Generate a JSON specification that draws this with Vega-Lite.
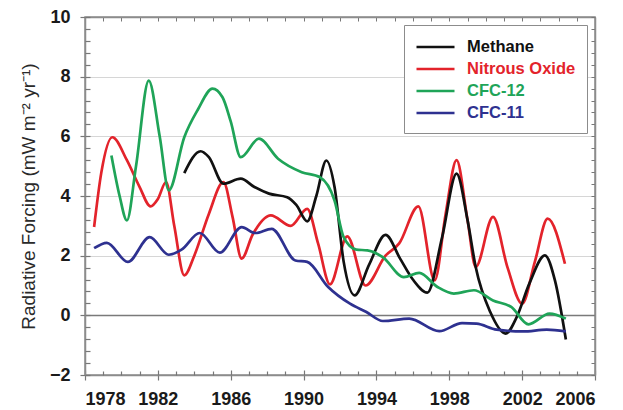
{
  "$schema": "https://vega.github.io/schema/vega-lite/v6.json",
  "width": 510,
  "height": 358,
  "autosize": {"type": "none"},
  "padding": {"left": 85, "top": 17, "right": 28, "bottom": 35},
  "background": "white",
  "config": {
    "view": {"stroke": "#8c8c8c", "strokeWidth": 1.5},
    "font": "Liberation Sans"
  },
  "resolve": {"axis": {"x": "independent", "y": "independent"}},
  "data": {
    "values": [
      {"series": "Nitrous Oxide", "year": 1978.5, "value": 2.96},
      {"series": "Nitrous Oxide", "year": 1978.9, "value": 4.8},
      {"series": "Nitrous Oxide", "year": 1979.5, "value": 5.97},
      {"series": "Nitrous Oxide", "year": 1980.3, "value": 5.2},
      {"series": "Nitrous Oxide", "year": 1981.0, "value": 4.3},
      {"series": "Nitrous Oxide", "year": 1981.6, "value": 3.65},
      {"series": "Nitrous Oxide", "year": 1982.0, "value": 3.9},
      {"series": "Nitrous Oxide", "year": 1982.45, "value": 4.47},
      {"series": "Nitrous Oxide", "year": 1982.9, "value": 3.0},
      {"series": "Nitrous Oxide", "year": 1983.45, "value": 1.34},
      {"series": "Nitrous Oxide", "year": 1984.0, "value": 2.0},
      {"series": "Nitrous Oxide", "year": 1984.8, "value": 3.4},
      {"series": "Nitrous Oxide", "year": 1985.6, "value": 4.47},
      {"series": "Nitrous Oxide", "year": 1986.1, "value": 3.3},
      {"series": "Nitrous Oxide", "year": 1986.6, "value": 1.9},
      {"series": "Nitrous Oxide", "year": 1987.2, "value": 2.7},
      {"series": "Nitrous Oxide", "year": 1988.2, "value": 3.35},
      {"series": "Nitrous Oxide", "year": 1989.3, "value": 3.0},
      {"series": "Nitrous Oxide", "year": 1990.2, "value": 3.57},
      {"series": "Nitrous Oxide", "year": 1990.8, "value": 2.4},
      {"series": "Nitrous Oxide", "year": 1991.45, "value": 1.04},
      {"series": "Nitrous Oxide", "year": 1992.4, "value": 2.65},
      {"series": "Nitrous Oxide", "year": 1993.4, "value": 1.0},
      {"series": "Nitrous Oxide", "year": 1994.5, "value": 2.0},
      {"series": "Nitrous Oxide", "year": 1995.25, "value": 2.41},
      {"series": "Nitrous Oxide", "year": 1996.3, "value": 3.65},
      {"series": "Nitrous Oxide", "year": 1997.2, "value": 1.17},
      {"series": "Nitrous Oxide", "year": 1997.8, "value": 3.4},
      {"series": "Nitrous Oxide", "year": 1998.4, "value": 5.2},
      {"series": "Nitrous Oxide", "year": 1999.0, "value": 3.2},
      {"series": "Nitrous Oxide", "year": 1999.45, "value": 1.62},
      {"series": "Nitrous Oxide", "year": 2000.4, "value": 3.3},
      {"series": "Nitrous Oxide", "year": 2001.2, "value": 1.6},
      {"series": "Nitrous Oxide", "year": 2002.0, "value": 0.39},
      {"series": "Nitrous Oxide", "year": 2002.7, "value": 1.8},
      {"series": "Nitrous Oxide", "year": 2003.4, "value": 3.24},
      {"series": "Nitrous Oxide", "year": 2004.35, "value": 1.73},

      {"series": "Methane", "year": 1983.45, "value": 4.77},
      {"series": "Methane", "year": 1984.35, "value": 5.5},
      {"series": "Methane", "year": 1984.8, "value": 5.3},
      {"series": "Methane", "year": 1985.6, "value": 4.41},
      {"series": "Methane", "year": 1986.55, "value": 4.58},
      {"series": "Methane", "year": 1987.3, "value": 4.3},
      {"series": "Methane", "year": 1988.1, "value": 4.08},
      {"series": "Methane", "year": 1989.1, "value": 3.96},
      {"series": "Methane", "year": 1989.6, "value": 3.7},
      {"series": "Methane", "year": 1990.2, "value": 3.15},
      {"series": "Methane", "year": 1990.7, "value": 4.0},
      {"series": "Methane", "year": 1991.25, "value": 5.19},
      {"series": "Methane", "year": 1991.7, "value": 4.3},
      {"series": "Methane", "year": 1992.2, "value": 1.8},
      {"series": "Methane", "year": 1992.8, "value": 0.67},
      {"series": "Methane", "year": 1993.6, "value": 1.7},
      {"series": "Methane", "year": 1994.5, "value": 2.7},
      {"series": "Methane", "year": 1995.3, "value": 1.9},
      {"series": "Methane", "year": 1996.0, "value": 1.2},
      {"series": "Methane", "year": 1996.8, "value": 0.76},
      {"series": "Methane", "year": 1997.6, "value": 2.6},
      {"series": "Methane", "year": 1998.4, "value": 4.75},
      {"series": "Methane", "year": 1999.0, "value": 3.2},
      {"series": "Methane", "year": 1999.45, "value": 1.62},
      {"series": "Methane", "year": 2000.25, "value": 0.11},
      {"series": "Methane", "year": 2001.1, "value": -0.61},
      {"series": "Methane", "year": 2001.7, "value": -0.06},
      {"series": "Methane", "year": 2002.4, "value": 1.07},
      {"series": "Methane", "year": 2003.25, "value": 2.01},
      {"series": "Methane", "year": 2003.8, "value": 1.17},
      {"series": "Methane", "year": 2004.4, "value": -0.81},

      {"series": "CFC-12", "year": 1979.45, "value": 5.36},
      {"series": "CFC-12", "year": 1979.9, "value": 4.0},
      {"series": "CFC-12", "year": 1980.3, "value": 3.18},
      {"series": "CFC-12", "year": 1980.8, "value": 5.0},
      {"series": "CFC-12", "year": 1981.5, "value": 7.87},
      {"series": "CFC-12", "year": 1982.1, "value": 6.0},
      {"series": "CFC-12", "year": 1982.6, "value": 4.19},
      {"series": "CFC-12", "year": 1983.45, "value": 5.97},
      {"series": "CFC-12", "year": 1984.2, "value": 6.9},
      {"series": "CFC-12", "year": 1985.0, "value": 7.6},
      {"series": "CFC-12", "year": 1985.55, "value": 7.31},
      {"series": "CFC-12", "year": 1986.0, "value": 6.5},
      {"series": "CFC-12", "year": 1986.55, "value": 5.3},
      {"series": "CFC-12", "year": 1987.55, "value": 5.92},
      {"series": "CFC-12", "year": 1988.6, "value": 5.25},
      {"series": "CFC-12", "year": 1989.9, "value": 4.8},
      {"series": "CFC-12", "year": 1990.9, "value": 4.63},
      {"series": "CFC-12", "year": 1991.7, "value": 3.85},
      {"series": "CFC-12", "year": 1992.2, "value": 2.62},
      {"series": "CFC-12", "year": 1992.9, "value": 2.2},
      {"series": "CFC-12", "year": 1993.5, "value": 2.18},
      {"series": "CFC-12", "year": 1994.35, "value": 1.95},
      {"series": "CFC-12", "year": 1995.5, "value": 1.28},
      {"series": "CFC-12", "year": 1996.35, "value": 1.42},
      {"series": "CFC-12", "year": 1997.35, "value": 0.95},
      {"series": "CFC-12", "year": 1998.25, "value": 0.73},
      {"series": "CFC-12", "year": 1999.35, "value": 0.84},
      {"series": "CFC-12", "year": 2000.4, "value": 0.5},
      {"series": "CFC-12", "year": 2001.4, "value": 0.28},
      {"series": "CFC-12", "year": 2002.35, "value": -0.3},
      {"series": "CFC-12", "year": 2003.5, "value": 0.06},
      {"series": "CFC-12", "year": 2004.4, "value": -0.11},

      {"series": "CFC-11", "year": 1978.5, "value": 2.25},
      {"series": "CFC-11", "year": 1979.2, "value": 2.43},
      {"series": "CFC-11", "year": 1980.35, "value": 1.79},
      {"series": "CFC-11", "year": 1981.55, "value": 2.62},
      {"series": "CFC-11", "year": 1982.6, "value": 2.03},
      {"series": "CFC-11", "year": 1983.3, "value": 2.2},
      {"series": "CFC-11", "year": 1984.3, "value": 2.76},
      {"series": "CFC-11", "year": 1985.4, "value": 2.1},
      {"series": "CFC-11", "year": 1986.6, "value": 2.96},
      {"series": "CFC-11", "year": 1987.35, "value": 2.76},
      {"series": "CFC-11", "year": 1988.25, "value": 2.9},
      {"series": "CFC-11", "year": 1989.55, "value": 1.84},
      {"series": "CFC-11", "year": 1990.2, "value": 1.79},
      {"series": "CFC-11", "year": 1991.35, "value": 0.95},
      {"series": "CFC-11", "year": 1992.55, "value": 0.39},
      {"series": "CFC-11", "year": 1993.45, "value": 0.11},
      {"series": "CFC-11", "year": 1994.35, "value": -0.19},
      {"series": "CFC-11", "year": 1995.8, "value": -0.11},
      {"series": "CFC-11", "year": 1997.45, "value": -0.53},
      {"series": "CFC-11", "year": 1998.7, "value": -0.26},
      {"series": "CFC-11", "year": 1999.5, "value": -0.28},
      {"series": "CFC-11", "year": 2000.6, "value": -0.48},
      {"series": "CFC-11", "year": 2002.05, "value": -0.54},
      {"series": "CFC-11", "year": 2003.35, "value": -0.48},
      {"series": "CFC-11", "year": 2004.4, "value": -0.54}
    ]
  },
  "layer": [
    {
      "mark": {"type": "line", "interpolate": "monotone", "strokeWidth": 2.7},
      "encoding": {
        "x": {
          "field": "year", "type": "quantitative",
          "scale": {"domain": [1978, 2006], "nice": false, "zero": false},
          "axis": {
            "orient": "bottom", "title": null,
            "values": [1978, 1982, 1986, 1990, 1994, 1998, 2002, 2006],
            "format": "d", "grid": false,
            "domainColor": "#8c8c8c", "domainWidth": 1.5,
            "tickColor": "#777", "tickSize": 5, "tickWidth": 1.2,
            "labelFont": "Liberation Sans", "labelFontSize": 18, "labelFontWeight": "bold",
            "labelColor": "#1a1a1a", "labelPadding": 10, "labelOverlap": false
          }
        },
        "y": {
          "field": "value", "type": "quantitative",
          "scale": {"domain": [-2, 10], "nice": false, "zero": false},
          "axis": {
            "orient": "left",
            "title": "Radiative Forcing (mW m\u207b\u00b2 yr\u207b\u00b9)",
            "titleFont": "Liberation Sans", "titleFontSize": 19, "titleFontWeight": "normal",
            "titleColor": "#2a2a2a", "titlePadding": 11,
            "values": [-2, 0, 2, 4, 6, 8, 10],
            "format": "d",
            "grid": true,
            "gridColor": {"condition": {"test": "datum.value === 0", "value": "#7a7a7a"}, "value": "#d6d6d6"},
            "gridOpacity": {"condition": {"test": "datum.value > -2 && datum.value < 10", "value": 1}, "value": 0},
            "gridWidth": {"condition": {"test": "datum.value === 0", "value": 1.5}, "value": 1.2},
            "domainColor": "#8c8c8c", "domainWidth": 1.5,
            "tickColor": "#777", "tickSize": 5, "tickWidth": 1.2,
            "labelFont": "Liberation Sans", "labelFontSize": 18, "labelFontWeight": "bold",
            "labelColor": "#1a1a1a", "labelPadding": 10, "labelOverlap": false
          }
        },
        "color": {
          "field": "series", "type": "nominal",
          "scale": {
            "domain": ["Methane", "Nitrous Oxide", "CFC-12", "CFC-11"],
            "range": ["#111111", "#e3232b", "#1fa458", "#2e3190"]
          },
          "legend": {
            "title": null,
            "orient": "top-right",
            "offset": 8,
            "padding": 11,
            "strokeColor": "#8c8c8c",
            "fillColor": "white",
            "symbolType": "M-1,0H3",
            "symbolSize": 361,
            "symbolStrokeWidth": 2.5,
            "symbolFillColor": "transparent",
            "labelFont": "Liberation Sans",
            "labelFontSize": 16.5,
            "labelFontWeight": "bold",
            "labelColor": {"expr": "datum.value === 'Methane' ? '#111111' : datum.value === 'Nitrous Oxide' ? '#e3232b' : datum.value === 'CFC-12' ? '#1fa458' : '#2e3190'"},
            "labelOffset": 30,
            "rowPadding": 2
          }
        }
      }
    },
    {
      "mark": {"type": "point", "opacity": 0},
      "encoding": {
        "x": {
          "field": "year", "type": "quantitative",
          "axis": {
            "orient": "top", "title": null, "labels": false, "grid": false,
            "values": [1978,1979,1980,1981,1982,1983,1984,1985,1986,1987,1988,1989,1990,1991,1992,1993,1994,1995,1996,1997,1998,1999,2000,2001,2002,2003,2004,2005,2006],
            "domainColor": "#8c8c8c", "domainWidth": 1.5, "tickColor": "#777",
            "tickSize": -4
          }
        },
        "y": {
          "field": "value", "type": "quantitative",
          "axis": {
            "orient": "right", "title": null, "labels": false, "grid": false,
            "values": [-2,-1.6,-1.2,-0.8,-0.4,0,0.4,0.8,1.2,1.6,2,2.4,2.8,3.2,3.6,4,4.4,4.8,5.2,5.6,6,6.4,6.8,7.2,7.6,8,8.4,8.8,9.2,9.6,10],
            "domainColor": "#8c8c8c", "domainWidth": 1.5, "tickColor": "#777",
            "tickSize": -4
          }
        }
      }
    },
    {
      "mark": {"type": "point", "opacity": 0},
      "encoding": {
        "x": {
          "field": "year", "type": "quantitative",
          "axis": {
            "orient": "bottom", "title": null, "labels": false, "grid": false, "domain": false,
            "values": [1978,1979,1980,1981,1982,1983,1984,1985,1986,1987,1988,1989,1990,1991,1992,1993,1994,1995,1996,1997,1998,1999,2000,2001,2002,2003,2004,2005,2006],
            "tickColor": "#777", "tickWidth": 1.2,
            "tickSize": {"condition": {"test": "(datum.value - 1978) % 4 === 0", "value": -5}, "value": -4}
          }
        },
        "y": {
          "field": "value", "type": "quantitative",
          "axis": {
            "orient": "left", "title": null, "labels": false, "grid": false, "domain": false,
            "values": [-2,-1.6,-1.2,-0.8,-0.4,0,0.4,0.8,1.2,1.6,2,2.4,2.8,3.2,3.6,4,4.4,4.8,5.2,5.6,6,6.4,6.8,7.2,7.6,8,8.4,8.8,9.2,9.6,10],
            "tickColor": "#777", "tickWidth": 1.2,
            "tickSize": -5
          }
        }
      }
    }
  ]
}
